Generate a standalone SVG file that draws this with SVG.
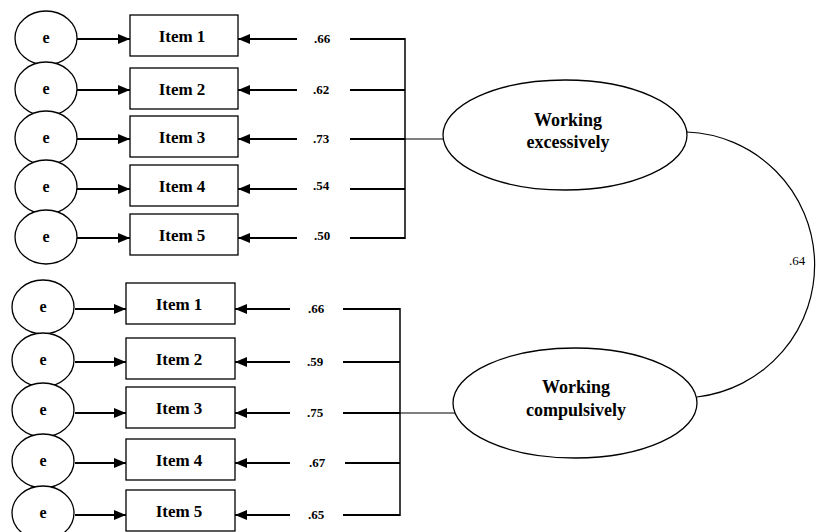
<svg xmlns="http://www.w3.org/2000/svg" width="832" height="532" viewBox="0 0 832 532">
<defs>
<marker id="ah" viewBox="0 0 12 10" refX="12" refY="5" markerWidth="12" markerHeight="10" markerUnits="userSpaceOnUse" orient="auto">
<path d="M0,0 L12,5 L0,10 z" fill="#000"/>
</marker>
<style>
.nd{fill:#fff;stroke:#000;stroke-width:1.3}
.ar{stroke:#000;stroke-width:2;fill:none;marker-end:url(#ah)}
.ln{stroke:#000;stroke-width:2;fill:none}
.th{stroke:#000;stroke-width:1.2;fill:none}
.t{font-family:"Liberation Serif","Times New Roman",serif;font-weight:bold;text-anchor:middle;fill:#000}
.e{font-size:16px}
.it{font-size:17px}
.lb{font-size:13px}
.lat{font-size:18px}
</style>
</defs>
<g id="connectors">
<path class="ar" d="M77,39 H130"/><path class="ar" d="M77,90 H130"/><path class="ar" d="M77,139 H130"/><path class="ar" d="M77,189 H130"/><path class="ar" d="M77,238 H130"/>
<path class="ar" d="M297,39 H238"/><path class="ar" d="M297,90 H238"/><path class="ar" d="M297,139 H238"/><path class="ar" d="M297,189 H238"/><path class="ar" d="M297,238 H238"/>
<path class="ln" d="M350,39 H405 M350,90 H405 M350,139 H405 M350,189 H405 M350,238 H405"/>
<path class="ln" d="M405,38 V239" style="stroke-width:1.5"/>
<path class="th" d="M405,139 H444"/>
<path class="ar" d="M75,309 H126"/><path class="ar" d="M75,362 H126"/><path class="ar" d="M75,413 H126"/><path class="ar" d="M75,463 H126"/><path class="ar" d="M75,515 H126"/>
<path class="ar" d="M290,309 H235"/><path class="ar" d="M290,362 H235"/><path class="ar" d="M290,413 H235"/><path class="ar" d="M290,463 H235"/><path class="ar" d="M290,515 H235"/>
<path class="ln" d="M343,309 H400 M343,362 H400 M343,413 H400 M345,463 H400 M343,515 H400"/>
<path class="ln" d="M400,308 V516" style="stroke-width:1.5"/>
<path class="th" d="M400,413 H455"/>
<path class="th" d="M687,132 A133,133 0 0 1 697,397"/>
</g>
<g id="labels">
<text class="t lb" x="322" y="43">.66</text>
<text class="t lb" x="321" y="94">.62</text>
<text class="t lb" x="321" y="143">.73</text>
<text class="t lb" x="321" y="190">.54</text>
<text class="t lb" x="322" y="240">.50</text>
<text class="t lb" x="316" y="313">.66</text>
<text class="t lb" x="315" y="366">.59</text>
<text class="t lb" x="315" y="417">.75</text>
<text class="t lb" x="317" y="467">.67</text>
<text class="t lb" x="316" y="519">.65</text>
<text x="797" y="265" style="font-family:'Liberation Serif','Times New Roman',serif;font-size:13px;text-anchor:middle">.64</text>
</g>
<g id="e1"><ellipse class="nd" cx="46" cy="38" rx="31" ry="27"/><text class="t e" x="46" y="43">e</text></g>
<g id="e2"><ellipse class="nd" cx="46" cy="89" rx="31" ry="27"/><text class="t e" x="46" y="94">e</text></g>
<g id="e3"><ellipse class="nd" cx="46" cy="138" rx="31" ry="27"/><text class="t e" x="46" y="143">e</text></g>
<g id="e4"><ellipse class="nd" cx="46" cy="187" rx="31" ry="27"/><text class="t e" x="46" y="192">e</text></g>
<g id="e5"><ellipse class="nd" cx="46" cy="237" rx="31" ry="27"/><text class="t e" x="46" y="242">e</text></g>
<g id="i1"><rect class="nd" x="130" y="15" width="108" height="41"/><text class="t it" x="182" y="42">Item 1</text></g>
<g id="i2"><rect class="nd" x="130" y="68" width="108" height="41"/><text class="t it" x="182" y="95">Item 2</text></g>
<g id="i3"><rect class="nd" x="130" y="116" width="108" height="41"/><text class="t it" x="182" y="143">Item 3</text></g>
<g id="i4"><rect class="nd" x="130" y="165" width="108" height="41"/><text class="t it" x="182" y="192">Item 4</text></g>
<g id="i5"><rect class="nd" x="130" y="214" width="108" height="41"/><text class="t it" x="182" y="241">Item 5</text></g>
<g id="we"><ellipse class="nd" cx="565" cy="135" rx="122" ry="55"/><text class="t lat" x="568" y="126">Working</text><text class="t lat" x="568" y="148">excessively</text></g>
<g id="f1"><ellipse class="nd" cx="43" cy="307" rx="31" ry="27"/><text class="t e" x="43" y="312">e</text></g>
<g id="f2"><ellipse class="nd" cx="43" cy="360" rx="31" ry="27"/><text class="t e" x="43" y="365">e</text></g>
<g id="f3"><ellipse class="nd" cx="43" cy="410" rx="31" ry="27"/><text class="t e" x="43" y="415">e</text></g>
<g id="f4"><ellipse class="nd" cx="43" cy="461" rx="31" ry="27"/><text class="t e" x="43" y="466">e</text></g>
<g id="f5"><ellipse class="nd" cx="43" cy="513" rx="31" ry="27"/><text class="t e" x="43" y="518">e</text></g>
<g id="j1"><rect class="nd" x="126" y="283" width="109" height="41"/><text class="t it" x="179" y="310">Item 1</text></g>
<g id="j2"><rect class="nd" x="126" y="338" width="109" height="41"/><text class="t it" x="179" y="365">Item 2</text></g>
<g id="j3"><rect class="nd" x="126" y="387" width="109" height="41"/><text class="t it" x="179" y="414">Item 3</text></g>
<g id="j4"><rect class="nd" x="126" y="439" width="109" height="41"/><text class="t it" x="179" y="466">Item 4</text></g>
<g id="j5"><rect class="nd" x="126" y="490" width="109" height="41"/><text class="t it" x="179" y="517">Item 5</text></g>
<g id="wc"><ellipse class="nd" cx="575" cy="403" rx="122" ry="55"/><text class="t lat" x="576" y="393">Working</text><text class="t lat" x="576" y="416">compulsively</text></g>
</svg>
